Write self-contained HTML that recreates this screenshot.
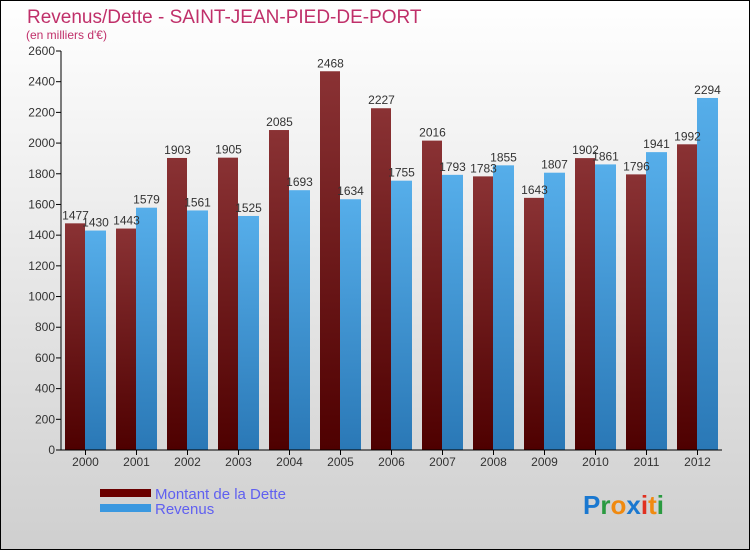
<!DOCTYPE html>
<html><head><meta charset="utf-8"><style>
body{margin:0}
#c{width:750px;height:550px;position:relative;overflow:hidden}
</style></head><body>
<div id="c">
<svg id="s" width="750" height="550" xmlns="http://www.w3.org/2000/svg" font-family="Liberation Sans, sans-serif">
<defs>
<linearGradient id="bg" x1="0" y1="0" x2="0" y2="1"><stop offset="0" stop-color="#ffffff"/><stop offset="1" stop-color="#cfcfcf"/></linearGradient>
<linearGradient id="gd" x1="0" y1="0" x2="0" y2="1"><stop offset="0" stop-color="#8a3234"/><stop offset="1" stop-color="#4e0000"/></linearGradient>
<linearGradient id="gr" x1="0" y1="0" x2="0" y2="1"><stop offset="0" stop-color="#56aeea"/><stop offset="1" stop-color="#2a78b6"/></linearGradient>
</defs>
<rect x="0.5" y="0.5" width="749" height="549" fill="url(#bg)" stroke="#000"/>
<text x="27" y="23" font-size="19" fill="#c0306a">Revenus/Dette - SAINT-JEAN-PIED-DE-PORT</text>
<text x="26" y="39" font-size="12" fill="#c0306a">(en milliers d'€)</text>
<g id="grid"></g>
<g id="bars"></g>
<g id="axes"></g>
<g>
<rect x="100" y="489" width="51" height="8" fill="#6a0000"/>
<text x="155" y="499" font-size="15" fill="#6060f0">Montant de la Dette</text>
<rect x="100" y="504" width="51" height="8" fill="#3a98e0"/>
<text x="155" y="514" font-size="15" fill="#6060f0">Revenus</text>
</g>
<text x="583" y="514" font-size="26" font-weight="bold"><tspan fill="#1a78d0">P</tspan><tspan fill="#2a9a40">r</tspan><tspan fill="#f08a10">o</tspan><tspan fill="#1a78d0">x</tspan><tspan fill="#e03020">i</tspan><tspan fill="#f08a10">t</tspan><tspan fill="#2a9a40">i</tspan></text>
</svg>
</div>
<script>
const years=["2000","2001","2002","2003","2004","2005","2006","2007","2008","2009","2010","2011","2012"];
const dette=[1477,1443,1903,1905,2085,2468,2227,2016,1783,1643,1902,1796,1992];
const revenus=[1430,1579,1561,1525,1693,1634,1755,1793,1855,1807,1861,1941,2294];
const yTicks=[0,200,400,600,800,1000,1200,1400,1600,1800,2000,2200,2400,2600];
const NS="http://www.w3.org/2000/svg";
const y0=450,ky=399/2600,x0=85.5,step=51,bw=20;
const Y=v=>y0-v*ky, X=i=>x0+i*step;
function mk(t,a,p){const e=document.createElementNS(NS,t);for(const k in a)e.setAttribute(k,a[k]);p.appendChild(e);return e;}
const bars=document.getElementById('bars'),axes=document.getElementById('axes');
years.forEach((yr,i)=>{
 const cx=X(i);
 const d=mk('rect',{x:cx-bw-0.5,y:Y(dette[i]),width:bw,height:dette[i]*ky,fill:'url(#gd)'},bars);
 
 
 const r=mk('rect',{x:cx-0.5,y:Y(revenus[i]),width:bw+1,height:revenus[i]*ky,fill:'url(#gr)'},bars);
 
 
 const t1=mk('text',{x:cx-bw/2,y:Y(dette[i])-4,'font-size':12,fill:'#333','text-anchor':'middle'},bars);
 t1.textContent=dette[i];
 
 
 const t2=mk('text',{x:cx+bw/2,y:Y(revenus[i])-4,'font-size':12,fill:'#333','text-anchor':'middle'},bars);
 t2.textContent=revenus[i];
 
 
 const xl=mk('text',{x:cx,y:466,'font-size':12,fill:'#333','text-anchor':'middle'},axes);
 xl.textContent=yr;
 
 
 mk('line',{x1:cx,x2:cx,y1:450,y2:455,stroke:'#000'},axes);
});
yTicks.forEach(v=>{
 mk('line',{x1:56,x2:61,y1:Y(v),y2:Y(v),stroke:'#000'},axes);
 const t=mk('text',{x:55,y:Y(v)+4,'font-size':12,fill:'#333','text-anchor':'end'},axes);
 t.textContent=v;
 
 
});
const ya=mk('line',{x1:61,x2:61,y1:Y(2600),y2:450,stroke:'#000'},axes);


const xa=mk('line',{x1:61,x2:722,y1:450,y2:450,stroke:'#000'},axes);


</script>
</body></html>
